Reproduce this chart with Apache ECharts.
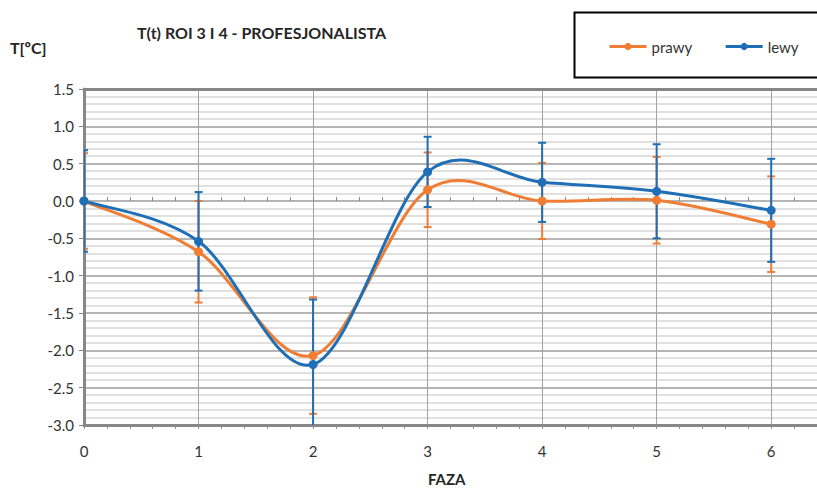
<!DOCTYPE html>
<html>
<head>
<meta charset="utf-8">
<script src="https://cdn.jsdelivr.net/npm/echarts@6/dist/echarts.min.js"></script>
<style>html,body{margin:0;padding:0;background:#fff}#c{width:817px;height:492px}</style>
</head>
<body>
<div id="c"></div>
<script>
// ---- data ----
var fazy = [0, 1, 2, 3, 4, 5, 6];
var prawy = [0.0, -0.68, -2.07, 0.15, 0.0, 0.01, -0.31];
var prawyErr = [0.64, 0.68, 0.78, 0.50, 0.51, 0.58, 0.64];
var lewy = [0.0, -0.54, -2.19, 0.39, 0.25, 0.13, -0.125];
var lewyErr = [0.68, 0.66, 0.87, 0.47, 0.53, 0.63, 0.69];
var yTicks = [-3.0, -2.5, -2.0, -1.5, -1.0, -0.5, 0.0, 0.5, 1.0, 1.5];
var xMax = 6.4;

var ORANGE = '#EF7D34';
var BLUE = '#1F6FB6';
var FONT = 'Lato';
var FRAME = '#878787';

function pairs(xs, ys) { return xs.map(function (x, i) { return [x, ys[i]]; }); }
function errData(xs, ys, es) { return xs.map(function (x, i) { return [x, ys[i] - es[i], ys[i] + es[i]]; }); }

function curveSeries(name, ys, color, z) {
  return {
    name: name, type: 'custom', z: z, clip: true, silent: true,
    data: [[0]],
    itemStyle: { color: color },
    renderItem: function (params, api) {
      var p = fazy.map(function (x, i) { return api.coord([x, ys[i]]); });
      var children = [];
      for (var i = 0; i < p.length - 1; i++) {
        var p0 = p[Math.max(i - 1, 0)], p1 = p[i], p2 = p[i + 1], p3 = p[Math.min(i + 2, p.length - 1)];
        children.push({
          type: 'bezierCurve',
          shape: {
            x1: p1[0], y1: p1[1], x2: p2[0], y2: p2[1],
            cpx1: p1[0] + (p2[0] - p0[0]) / 6, cpy1: p1[1] + (p2[1] - p0[1]) / 6,
            cpx2: p2[0] - (p3[0] - p1[0]) / 6, cpy2: p2[1] - (p3[1] - p1[1]) / 6
          },
          style: { stroke: color, lineWidth: 3, fill: null }
        });
      }
      return { type: 'group', children: children };
    }
  };
}

function errSeries(name, data, color, z) {
  return {
    name: name, type: 'custom', z: z, clip: true, silent: true,
    data: data,
    itemStyle: { color: color },
    renderItem: function (params, api) {
      var lo = api.coord([api.value(0), api.value(1)]);
      var hi = api.coord([api.value(0), api.value(2)]);
      var w = 4;
      var st = { stroke: color, lineWidth: 2 };
      return {
        type: 'group', children: [
          { type: 'line', shape: { x1: lo[0], y1: lo[1], x2: hi[0], y2: hi[1] }, style: st },
          { type: 'line', shape: { x1: lo[0] - w, y1: lo[1], x2: lo[0] + w, y2: lo[1] }, style: st },
          { type: 'line', shape: { x1: hi[0] - w, y1: hi[1], x2: hi[0] + w, y2: hi[1] }, style: st }
        ]
      };
    }
  };
}

function markerSeries(name, ys, color, z) {
  return {
    name: name, type: 'line', z: z, data: pairs(fazy, ys),
    symbol: 'circle', symbolSize: 9, showSymbol: true,
    itemStyle: { color: color },
    lineStyle: { color: color, width: 3, opacity: 0 },
    silent: true, animation: false
  };
}

var chart = echarts.init(document.getElementById('c'), null, { renderer: 'svg' });
chart.setOption({
  animation: false,
  textStyle: { fontFamily: FONT },
  grid: { left: 84, top: 89, right: 0, bottom: 67, show: false },
  legend: {
    data: ['prawy', 'lewy'],
    left: 603, top: 34, itemWidth: 37, itemHeight: 9, itemGap: 32,
    textStyle: { fontSize: 15, color: '#333', fontFamily: FONT },
    lineStyle: { opacity: 1, width: 3 },
    selectedMode: false
  },
  xAxis: [
    {
      type: 'value', min: 0, max: xMax, interval: 1, position: 'bottom',
      axisLine: { show: true, onZero: false, lineStyle: { color: FRAME, width: 3 } }, axisTick: { show: false },
      axisLabel: { fontSize: 15, color: '#333', margin: 18, showMaxLabel: false, fontFamily: FONT },
      splitLine: { show: true, lineStyle: { color: '#a3a3a3', width: 1 } }
    },
    {
      type: 'value', min: 0, max: xMax, interval: 0.2, position: 'bottom',
      axisLine: { show: false, onZero: true }, axisLabel: { show: false },
      axisTick: { show: true, inside: true, length: 4, lineStyle: { color: '#8a8a8a', width: 1 } },
      splitLine: { show: false }
    },
    {
      type: 'value', min: 0, max: xMax, interval: 0.2, position: 'bottom',
      axisLine: { show: false, onZero: true }, axisLabel: { show: false },
      axisTick: { show: true, inside: false, length: 4, lineStyle: { color: '#8a8a8a', width: 1 } },
      splitLine: { show: false }
    },
    {
      type: 'value', min: 0, max: xMax, position: 'top',
      axisLine: { show: true, onZero: false, lineStyle: { color: FRAME, width: 3 } },
      axisTick: { show: false }, axisLabel: { show: false }, splitLine: { show: false }
    }
  ],
  yAxis: {
    type: 'value', min: yTicks[0], max: yTicks[yTicks.length - 1], interval: 0.5,
    axisLine: { show: true, onZero: false, lineStyle: { color: FRAME, width: 3 } },
    axisTick: { show: true, length: 5, lineStyle: { color: FRAME, width: 1 } },
    axisLabel: { fontSize: 15, color: '#333', margin: 10, fontFamily: FONT, formatter: function (v) { return v.toFixed(1); } },
    splitLine: { show: true, lineStyle: { color: '#9d9d9d', width: 1.5 } },
    minorTick: { show: false, splitNumber: 5 },
    minorSplitLine: { show: true, lineStyle: { color: '#d6d6d6', width: 1.5 } }
  },
  graphic: [
    { type: 'text', left: 137, top: 24, style: { text: 'T(t) ROI 3 I 4 - PROFESJONALISTA', font: 'bold 16px ' + FONT, fill: '#262626' } },
    { type: 'text', left: 10, top: 39, style: { text: 'T[ºC]', font: 'bold 16px ' + FONT, fill: '#262626' } },
    { type: 'text', left: 428, top: 471, style: { text: 'FAZA', font: 'bold 15px ' + FONT, fill: '#262626' } },
    { type: 'rect', left: 572, top: 10, shape: { width: 260, height: 65 }, style: { fill: null, stroke: '#000', lineWidth: 2 }, z: 0 }
  ],
  series: [
    markerSeries('prawy', prawy, ORANGE, 6),
    markerSeries('lewy', lewy, BLUE, 7),
    curveSeries('prawy', prawy, ORANGE, 2),
    curveSeries('lewy', lewy, BLUE, 3),
    errSeries('prawy', errData(fazy, prawy, prawyErr), ORANGE, 4),
    errSeries('lewy', errData(fazy, lewy, lewyErr), BLUE, 5)
  ]
});
</script>
</body>
</html>
